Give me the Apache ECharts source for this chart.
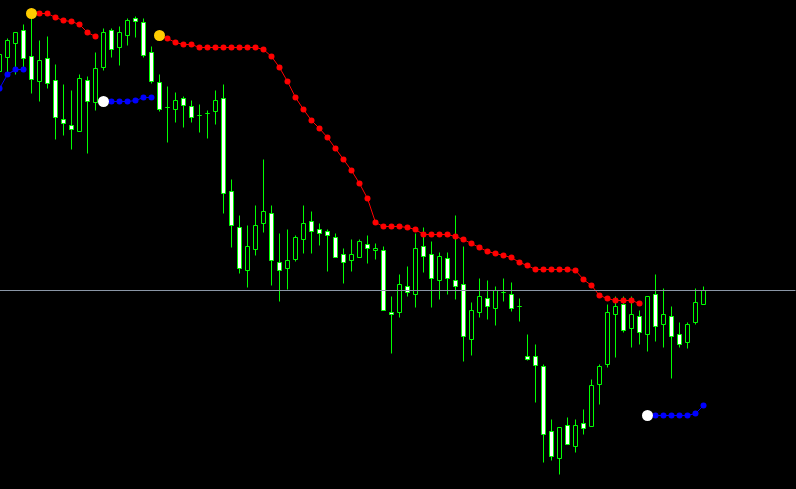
<!DOCTYPE html>
<html>
<head>
<meta charset="utf-8">
<script src="https://cdn.jsdelivr.net/npm/echarts@6/dist/echarts.min.js"></script>
<style>
  html, body { margin: 0; padding: 0; background: #000; }
  #chart { width: 796px; height: 489px; }
</style>
</head>
<body>
<div id="chart"></div>
<script>
// bar prices, oldest first (first bar is cut off at the left edge)
var opens = [429, 443, 457, 470, 444, 419, 442, 420, 381, 375, 369, 420, 398, 433, 470, 453, 465, 482, 478, 448,
    418, 393, 391, 402, 394, 385, 387, 389, 402, 309, 273, 230, 251, 277, 287, 238, 232, 241, 261, 279,
    271, 269, 263, 246, 240, 243, 256, 250, 250, 188, 188, 214, 206, 254, 246, 220, 242, 220, 216, 161,
    188, 202, 192, 208, 206, 194, 144, 144, 134, 69, 42, 75, 54, 77, 74, 116, 136, 186, 196, 172,
    184, 166, 206, 176, 184, 166, 158, 178, 196];
var closes = [446, 460, 468, 442, 421, 440, 417, 383, 377, 371, 422, 399, 432, 468, 451, 468, 480, 479, 445, 419,
    391, 393, 400, 395, 383, 385, 387, 400, 307, 275, 232, 254, 275, 289, 240, 230, 240, 263, 277, 269,
    267, 265, 243, 238, 246, 259, 252, 252, 190, 186, 216, 208, 252, 244, 222, 244, 222, 214, 164, 190,
    204, 194, 210, 208, 192, 194, 141, 135, 66, 44, 73, 56, 75, 72, 115, 134, 188, 194, 170, 186,
    168, 204, 174, 186, 164, 156, 176, 198, 210];
var lows = [425, 428, 426, 433, 407, 399, 412, 361, 365, 351, 369, 347, 390, 430, 443, 435, 455, 463, 443, 417,
    389, 358, 378, 373, 378, 368, 362, 376, 287, 253, 227, 213, 245, 268, 215, 199, 211, 239, 247, 247,
    255, 229, 243, 217, 229, 243, 237, 241, 190, 147, 183, 204, 193, 228, 193, 201, 206, 201, 139, 145,
    183, 181, 175, 199, 189, 179, 140, 98, 38, 40, 26, 56, 48, 66, 74, 96, 133, 143, 168, 153,
    156, 149, 159, 153, 122, 153, 152, 176, 196];
var highs = [450, 462, 468, 476, 483, 460, 464, 436, 416, 410, 426, 424, 448, 472, 472, 474, 482, 484, 482, 454,
    426, 414, 408, 404, 400, 396, 390, 410, 416, 321, 285, 275, 295, 341, 295, 267, 271, 265, 295, 289,
    277, 271, 267, 252, 261, 261, 265, 257, 254, 204, 226, 234, 267, 273, 259, 248, 248, 285, 254, 198,
    222, 220, 214, 222, 218, 202, 166, 156, 136, 81, 73, 83, 81, 91, 121, 136, 196, 204, 204, 204,
    190, 204, 226, 212, 194, 178, 178, 212, 214];

// trailing stop line: red above price, blue below price (null = not drawn)
var redStop = [null, null, null, null, 487, 487, 487, 483, 480, 479, 476, 468, 464, null, null, null, null, null, null, null,
    465, 462, 458, 456, 456, 453, 453, 453, 453, 453, 453, 453, 453, 451, 444, 433, 419, 403, 391, 380,
    372, 363, 352, 341, 330, 317, 302, 278, 274, 274, 274, 273, 271, 266, 266, 266, 266, 264, 261, 257,
    253, 249, 247, 245, 243, 238, 235, 231, 231, 231, 231, 231, 230, 221, 215, 205, 202, 200, 200, 200,
    197, null, null, null, null, null, null, null, null];
var blueStop = [412, 426, 431, 431, null, null, null, null, null, null, null, null, null, 399, 399, 399, 399, 400, 403, 403,
    null, null, null, null, null, null, null, null, null, null, null, null, null, null, null, null, null, null, null, null,
    null, null, null, null, null, null, null, null, null, null, null, null, null, null, null, null, null, null, null, null,
    null, null, null, null, null, null, null, null, null, null, null, null, null, null, null, null, null, null, null, null,
    null, 85, 85, 85, 85, 85, 85, 87, 95];

// trend flips: [bar index, price]
var sellFlips = [[4, 487], [20, 465]];
var buyFlips = [[13, 399], [81, 85]];

var levelLine = 210;
var emptyBars = 11;

var categories = [];
for (var i = 0; i < opens.length + emptyBars; i++) {
    categories.push(String(i));
}
var candles = [];
for (var j = 0; j < opens.length; j++) {
    candles.push([opens[j], closes[j], lows[j], highs[j]]);
}

var chart = echarts.init(document.getElementById('chart'));

var option = {
    backgroundColor: '#000',
    animation: false,
    grid: { left: -4.5, right: 0.5, top: 0, bottom: 0, outerBoundsMode: 'none', containLabel: false },
    xAxis: {
        type: 'category',
        data: categories,
        show: false
    },
    yAxis: {
        type: 'value',
        min: 11.5,
        max: 500.5,
        show: false
    },
    series: [
        {
            type: 'candlestick',
            data: candles,
            barWidth: 4,
            itemStyle: {
                color: '#000',
                color0: '#fff',
                borderColor: '#00ff00',
                borderColor0: '#00ff00',
                borderWidth: 1
            },
            markLine: {
                silent: true,
                symbol: 'none',
                label: { show: false },
                lineStyle: { color: '#8a96a6', type: 'solid', width: 1 },
                data: [{ yAxis: levelLine }]
            }
        },
        {
            type: 'line',
            data: redStop,
            connectNulls: false,
            symbol: 'circle',
            symbolSize: 6,
            showSymbol: true,
            showAllSymbol: true,
            lineStyle: { color: '#ff0000', width: 1 },
            itemStyle: { color: '#ff0000' }
        },
        {
            type: 'line',
            data: blueStop,
            connectNulls: false,
            symbol: 'circle',
            symbolSize: 6,
            showSymbol: true,
            showAllSymbol: true,
            lineStyle: { color: '#0000ff', width: 1 },
            itemStyle: { color: '#0000ff' }
        },
        {
            type: 'scatter',
            data: sellFlips,
            symbolSize: 11,
            itemStyle: { color: '#ffcc00', opacity: 1 },
            z: 5
        },
        {
            type: 'scatter',
            data: buyFlips,
            symbolSize: 11,
            itemStyle: { color: '#ffffff', opacity: 1 },
            z: 5
        }
    ]
};

chart.setOption(option);
</script>
</body>
</html>
